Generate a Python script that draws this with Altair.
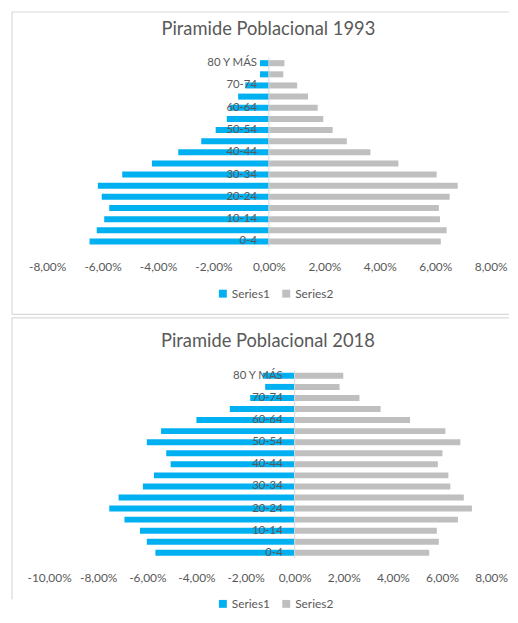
import altair as alt
import pandas as pd

AGES = ["0-4", "5-9", "10-14", "15-19", "20-24", "25-29", "30-34", "35-39", "40-44",
        "45-49", "50-54", "55-59", "60-64", "65-69", "70-74", "75-79", "80 Y MÁS"]
SHOWN = ["0-4", "10-14", "20-24", "30-34", "40-44", "50-54", "60-64", "70-74", "80 Y MÁS"]
SERIES = ["Series1", "Series2"]

# percent values, from the 0-4 group upwards
S1_1993 = [-6.47, -6.21, -5.94, -5.76, -6.03, -6.17, -5.29, -4.22, -3.27,
           -2.44, -1.92, -1.52, -1.42, -1.11, -0.85, -0.32, -0.32]
S2_1993 = [6.20, 6.41, 6.17, 6.13, 6.52, 6.81, 6.05, 4.67, 3.66,
           2.81, 2.30, 1.96, 1.76, 1.41, 1.02, 0.52, 0.56]
S1_2018 = [-5.67, -6.02, -6.30, -6.93, -7.55, -7.17, -6.18, -5.73, -5.05,
           -5.23, -6.02, -5.44, -4.00, -2.64, -1.81, -1.20, -1.30]
S2_2018 = [5.48, 5.87, 5.79, 6.65, 7.22, 6.89, 6.34, 6.26, 5.83,
           6.02, 6.75, 6.14, 4.70, 3.50, 2.64, 1.83, 1.98]

TICKS_1993 = [-8, -6, -4, -2, 0, 2, 4, 6, 8]
TICKS_2018 = [-10, -8, -6, -4, -2, 0, 2, 4, 6, 8]
TITLES = ["Piramide Poblacional 1993", "Piramide Poblacional 2018"]

COLORS = ["#00B0F0", "#BFBFBF"]
FONT = "Lato"
TEXT = "#595959"
LINE = "#D9D9D9"
W = 496

LABEL_EXPR = ("(datum.value < 0 ? '-' : '') + "
              "replace(format(abs(datum.value), '.2f'), '.', ',') + '%'")


def panel(title, s1, s2, ticks, xdom, xrange, yrange, H, title_xy,
          axis_offset, legend_xy, bottom_border):
    n = len(AGES)
    df = pd.DataFrame({
        "age": AGES + AGES,
        "series": [SERIES[0]] * n + [SERIES[1]] * n,
        "value": list(s1) + list(s2),
    })
    one = pd.DataFrame({"k": [0]})
    yscale = alt.Scale(domain=AGES[::-1], range=yrange,
                       paddingInner=0.46, paddingOuter=0.23)
    xscale = alt.Scale(domain=xdom, range=xrange, nice=False)

    bars = alt.Chart(df).mark_bar().encode(
        x=alt.X("value:Q", scale=xscale,
                axis=alt.Axis(values=ticks, labelExpr=LABEL_EXPR, domain=False,
                              ticks=False, tickSize=0, grid=False, title=None,
                              labelFont=FONT, labelFontSize=12, labelColor=TEXT,
                              labelBaseline="middle", labelPadding=0,
                              offset=axis_offset, labelFlush=False)),
        y=alt.Y("age:N", scale=yscale, axis=None),
        color=alt.Color("series:N",
                        scale=alt.Scale(domain=SERIES, range=COLORS),
                        legend=alt.Legend(orient="none", legendX=legend_xy[0],
                                          legendY=legend_xy[1],
                                          direction="horizontal", title=None,
                                          symbolType="square", symbolSize=64,
                                          symbolStrokeWidth=0, symbolOpacity=1,
                                          labelFont=FONT, labelFontSize=12,
                                          labelColor=TEXT, labelOffset=3,
                                          columnPadding=10, padding=0)),
    )

    zero = alt.Chart(one).mark_rule(color=LINE, strokeWidth=1).encode(
        x=alt.datum(0), y=alt.value(yrange[0]), y2=alt.value(yrange[1]))

    labels = alt.Chart(pd.DataFrame({"age": SHOWN})).mark_text(
        align="right", baseline="middle", dx=-12, font=FONT, fontSize=11.5,
        color=TEXT).encode(
        x=alt.datum(0), y=alt.Y("age:N", scale=yscale, axis=None), text="age:N")

    title_mark = alt.Chart(pd.DataFrame({"t": [title]})).mark_text(
        align="center", baseline="middle", font=FONT, fontSize=18.5,
        color=TEXT).encode(
        x=alt.value(title_xy[0]), y=alt.value(title_xy[1]), text="t:N")

    top = alt.Chart(one).mark_rule(color=LINE, strokeWidth=1.2).encode(
        x=alt.value(0), x2=alt.value(W + 6), y=alt.value(0))
    left = alt.Chart(one).mark_rule(color=LINE, strokeWidth=1.2).encode(
        x=alt.value(0), y=alt.value(0), y2=alt.value(H))
    layers = [top, left]
    if bottom_border:
        layers.append(alt.Chart(one).mark_rule(color=LINE, strokeWidth=1.2).encode(
            x=alt.value(0), x2=alt.value(W + 6), y=alt.value(H)))
    layers += [bars, zero, labels, title_mark]
    return alt.layer(*layers).properties(width=W, height=H)


p1 = panel(TITLES[0], S1_1993, S2_1993, TICKS_1993, [-8, 8], [35.5, 483.5],
           [46.1, 237.35], 305.5, (259, 16.8), -48.8, (207, 278.5), True)
p2 = panel(TITLES[1], S1_2018, S2_2018, TICKS_2018, [-10, 8], [37.5, 483.9],
           [52.9, 242.8], 284, (258.5, 23), -21.8, (207, 282.8), False)

chart = alt.vconcat(p1, p2, spacing=1).resolve_scale(
    x="independent", y="independent", color="independent"
).resolve_legend(color="independent").properties(
    padding={"left": 3, "top": 0, "right": 0, "bottom": 0}
).configure(font=FONT).configure_view(stroke="transparent", strokeWidth=0)

chart.save("out.html", embed_options={"renderer": "svg", "actions": False})
